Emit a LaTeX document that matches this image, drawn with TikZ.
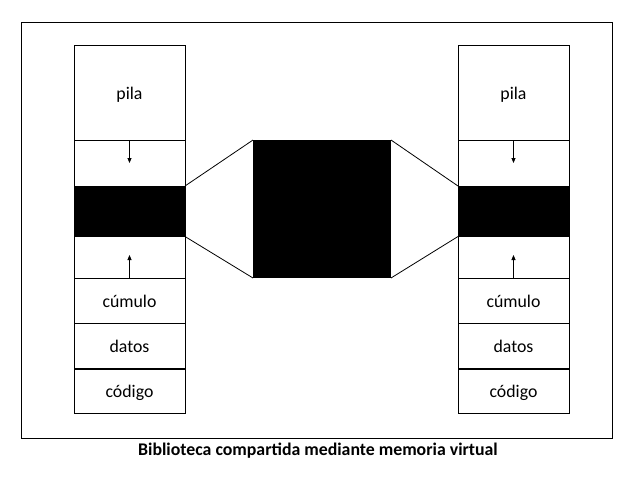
\documentclass[tikz,border=0pt]{standalone}
\usepackage{fontspec}
\setmainfont{Carlito}
\usetikzlibrary{arrows.meta}
\begin{document}
\begin{tikzpicture}[x=1pt,y=-1pt,
  cell/.style={draw=black,line width=1pt,minimum width=111pt,inner sep=0pt,outer sep=0pt,text height=13pt,text depth=0pt,font=\fontsize{17.8}{20}\selectfont},
  blk/.style={cell,fill=black},
  link/.style={line width=0.8pt},
  growarrow/.style={line width=0.8pt,-{Triangle[length=5pt,width=4pt]}}]
\useasboundingbox (0,0) rectangle (640,480);
\node[draw=black,line width=1pt,minimum width=591pt,minimum height=416pt,inner sep=0pt] (frame) at (316.5,230) {};
\foreach \p/\c in {l/129.5,r/513.5}{
  \node[cell,minimum height=95pt] (\p pila) at (\c,92.5) {pila};
  \node[cell,minimum height=46pt] (\p g1) at (\c,163) {};
  \node[blk,minimum height=50.5pt] (\p blk) at (\c,211.25) {};
  \node[cell,minimum height=41.5pt] (\p g2) at (\c,257.25) {};
  \node[cell,minimum height=45pt] (\p cum) at (\c,300.5) {cúmulo};
  \node[cell,minimum height=46pt] (\p dat) at (\c,346) {datos};
  \node[cell,minimum height=44.5pt] (\p cod) at (\c,391.25) {código};
  \coordinate (\p d) at (\c,163);
  \coordinate (\p u) at (\c,255);
  \draw[growarrow] (\p g1.north) -- (\p d);
  \draw[growarrow] (\p g2.south) -- (\p u);
  \draw[line width=1.6pt] (\p dat.south west) -- (\p dat.south east);
}
\node[fill=black,minimum width=138pt,minimum height=138pt,inner sep=0pt,outer sep=0pt] (shared) at (322,209) {};
\draw[link] (lblk.north east) -- (shared.north west);
\draw[link] (lblk.south east) -- (shared.south west);
\draw[link] (rblk.north west) -- (shared.north east);
\draw[link] (rblk.south west) -- (shared.south east);
\node[font=\bfseries\fontsize{17.8}{20}\selectfont] (cap) at (318,450.5) {Biblioteca compartida mediante memoria virtual};
\end{tikzpicture}
\end{document}
